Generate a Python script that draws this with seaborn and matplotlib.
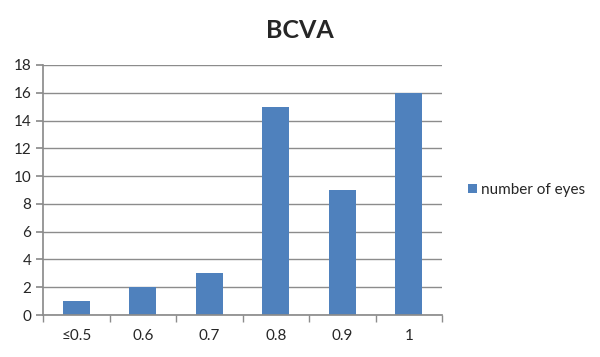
import pandas as pd
import seaborn as sns
import matplotlib.pyplot as plt
import numpy as np


categories = ["≤0.5", "0.6", "0.7", "0.8", "0.9", "1"]
eyes = [1, 2, 3, 15, 9, 16]
series_name = "number of eyes"


sns.set_theme(style="white")
plt.rcParams["font.family"] = ["Lato", "DejaVu Sans"]

df = pd.DataFrame({"BCVA": categories, "count": eyes, "series": series_name})

fig = plt.figure(figsize=(6, 3.57), dpi=100)
ax = fig.add_axes([0.0717, 0.1176, 0.665, 0.7004])

sns.barplot(data=df, x="BCVA", y="count", hue="series", palette=["#4F81BD"],
            width=0.4, ax=ax, saturation=1, linewidth=0)

ax.set_ylim(0, 18)
ax.set_yticks(np.arange(0, 19, 2))
ax.set_xlim(-0.5, len(categories) - 0.5)
ax.yaxis.grid(True, color="#8C8C8C", linewidth=1)
ax.set_axisbelow(True)
for s in ["top", "right"]:
    ax.spines[s].set_visible(False)
for s in ["left", "bottom"]:
    ax.spines[s].set_color("#8C8C8C")
ax.set_xticks(np.arange(-0.5, len(categories)), minor=True)
ax.tick_params(axis="x", which="major", length=0, pad=10, labelsize=11)
ax.tick_params(axis="x", which="minor", length=5, color="#8C8C8C", bottom=True)
ax.tick_params(axis="y", length=5, color="#8C8C8C", left=True, labelsize=11)
ax.set_xlabel("")
ax.set_ylabel("")

ax.legend(loc="center left", bbox_to_anchor=(1.03, 0.5), frameon=False,
          fontsize=11, handlelength=0.6, handleheight=0.6, handletextpad=0.3)
fig.text(0.5, 0.915, "BCVA", ha="center", va="center", fontsize=18, fontweight="bold")

plt.savefig("out.png", dpi=100)
